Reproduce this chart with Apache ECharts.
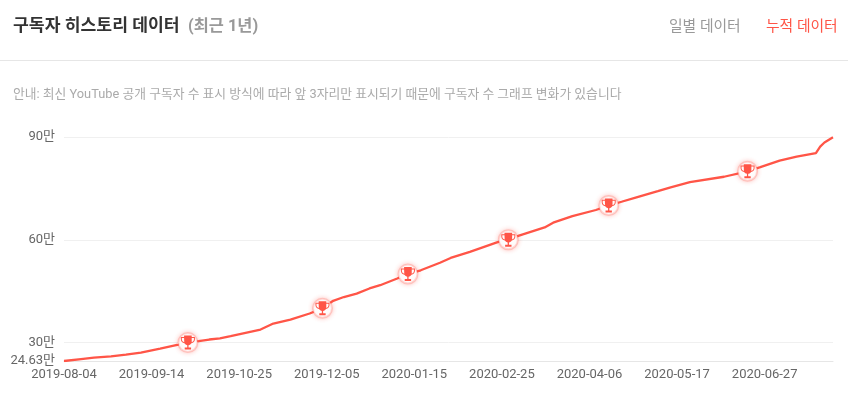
<!DOCTYPE html>
<html><head><meta charset="utf-8">
<style>html,body{margin:0;padding:0;background:#fff}#c{width:848px;height:394px}</style>
<script src="https://cdn.jsdelivr.net/npm/echarts@6/dist/echarts.min.js"></script>
</head><body><div id="c"></div>
<script>
const dates = ['2019-08-04','2019-08-12','2019-08-18','2019-08-26','2019-09-02','2019-09-09','2019-09-18','2019-09-26','2019-10-01','2019-10-06','2019-10-11','2019-10-16','2019-10-21','2019-11-04','2019-11-10','2019-11-18','2019-11-27','2019-12-03','2019-12-08','2019-12-13','2019-12-19','2019-12-25','2019-12-30','2020-01-07','2020-01-12','2020-01-18','2020-01-27','2020-02-01','2020-02-10','2020-02-23','2020-02-28','2020-03-04','2020-03-16','2020-03-20','2020-03-29','2020-04-09','2020-04-15','2020-04-21','2020-04-28','2020-05-08','2020-05-14','2020-05-23','2020-06-08','2020-06-19','2020-06-25','2020-07-04','2020-07-12','2020-07-21','2020-07-23','2020-07-25','2020-07-29'];
const subscribers = [24.63,25.2,25.6,26.0,26.5,27.1,28.25,29.3,30,30.4,30.9,31.25,31.9,33.8,35.55,36.7,38.5,40,42.2,43.3,44.3,45.8,46.75,48.7,50,51.1,53.3,54.7,56.5,59.3,60,61.2,63.6,65,66.9,68.7,70,71.1,72.4,74.2,75.3,76.8,78.4,80,81.2,83.1,84.3,85.3,87.2,88.4,89.9];
const milestoneDates = ['2019-10-01','2019-12-03','2020-01-12','2020-02-28','2020-04-15','2020-06-19'];
const milestoneValues = [30,40,50,60,70,80];
const xTickLabels = ['2019-08-04','2019-09-14','2019-10-25','2019-12-05','2020-01-15','2020-02-25','2020-04-06','2020-05-17','2020-06-27'];
const yTicks = [24.63,30,60,90];

const FONT = 'Roboto, "Noto Sans CJK KR", sans-serif';
const RED = '#ff5547';
const TROPHY = 'path://M6 1H18V3H23V7C23 10 20.5 12 17.5 12.5C16.5 14 15 15 13 15.4V19H17V22H7V19H11V15.4C9 15 7.5 14 6.5 12.5C3.5 12 1 10 1 7V3H6ZM6 4.5H2.5V7C2.5 8.8 4 10.4 6.3 11ZM18 4.5V11C20 10.4 21.5 8.8 21.5 7V4.5Z';
const ts = s => Date.parse(s);
const milestones = milestoneDates.map((d, i) => [ts(d), milestoneValues[i]]);
const label = (text, x, y, size, color, weight) => ({
  type: 'text', x, y,
  style: { text, font: `${weight || 'normal'} ${size}px ${FONT}`, fill: color, textVerticalAlign: 'middle' }
});

const chart = echarts.init(document.getElementById('c'), null, { renderer: 'canvas' });
chart.setOption({
  animation: false,
  backgroundColor: '#fff',
  textStyle: { fontFamily: FONT },
  grid: { left: 64, right: 15, top: 137, bottom: 33 },
  xAxis: {
    type: 'value',
    min: ts(dates[0]),
    max: ts(dates[dates.length - 1]),
    axisLine: { show: true, lineStyle: { color: '#e6e6e6', width: 1 } },
    axisTick: { show: false },
    splitLine: { show: false },
    axisLabel: {
      customValues: xTickLabels.map(ts),
      formatter: v => new Date(v).toISOString().slice(0, 10),
      color: '#666', fontSize: 13, margin: 7, fontFamily: FONT, hideOverlap: false,
      showMinLabel: true, showMaxLabel: true
    }
  },
  yAxis: {
    type: 'value', min: yTicks[0], max: yTicks[yTicks.length - 1],
    axisLine: { show: false }, axisTick: { show: false, customValues: yTicks },
    splitLine: { show: true, lineStyle: { color: '#f0f0f0', width: 1 } },
    axisLabel: {
      customValues: yTicks,
      formatter: v => v + '만',
      color: '#666', fontSize: 13, margin: 9, fontFamily: FONT
    }
  },
  graphic: [
    { type: 'rect', shape: { x: 0, y: 60, width: 848, height: 1 }, style: { fill: '#e6e6e6' } },
    label('구독자 히스토리 데이터', 13, 27, 17.2, '#333', 'bold'),
    label('(최근 1년)', 188, 27, 16.4, '#999', 'bold'),
    label('일별 데이터', 669, 27, 14.8, '#999'),
    label('누적 데이터', 766, 27, 14.8, RED),
    label('안내: 최신 YouTube 공개 구독자 수 표시 방식에 따라 앞 3자리만 표시되기 때문에 구독자 수 그래프 변화가 있습니다', 13, 95, 12.8, '#aaa')
  ],
  series: [
    { type: 'line', data: dates.map((d, i) => [ts(d), subscribers[i]]), showSymbol: false, symbol: 'none',
      lineStyle: { color: RED, width: 2.3 }, z: 2 },
    { type: 'scatter', data: milestones, symbol: 'circle', symbolSize: 19, z: 3,
      itemStyle: { color: '#fff', borderColor: 'rgba(255,85,71,0.22)', borderWidth: 2, shadowColor: 'rgba(255,85,71,0.45)', shadowBlur: 5, opacity: 1 } },
    { type: 'scatter', data: milestones, symbol: TROPHY, symbolSize: 14, z: 4,
      itemStyle: { color: RED, opacity: 1 } }
  ]
});
</script></body></html>
